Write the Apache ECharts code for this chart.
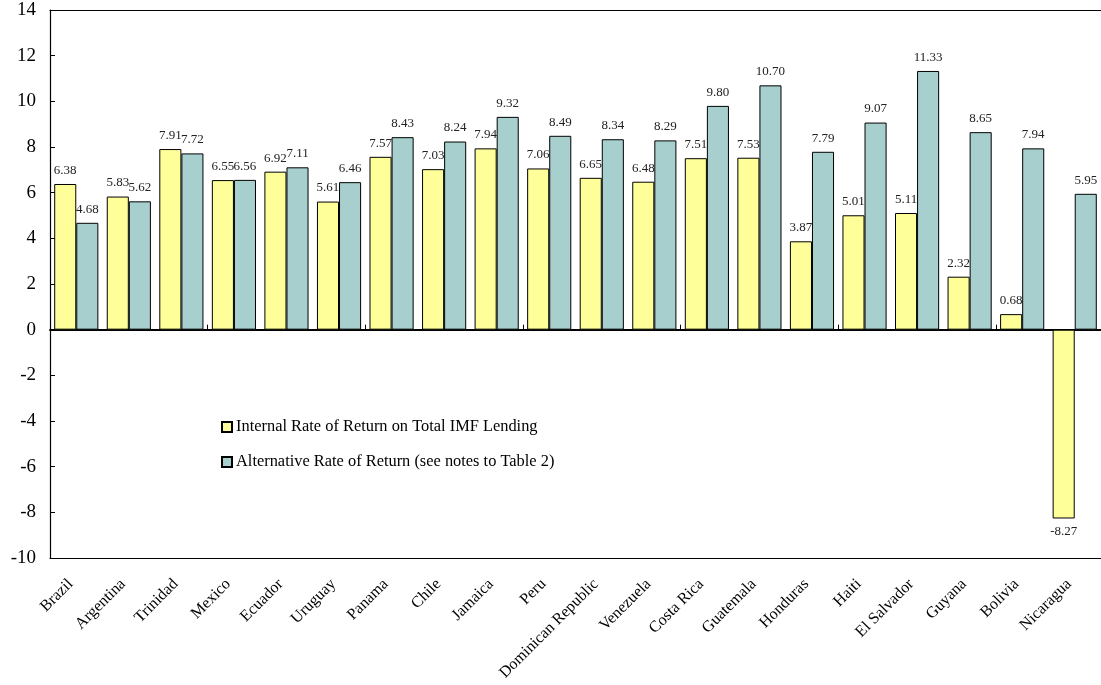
<!DOCTYPE html>
<html>
<head>
<meta charset="utf-8">
<script src="https://cdn.jsdelivr.net/npm/echarts@6/dist/echarts.min.js"></script>
<style>
  html, body { margin: 0; padding: 0; background: #fff; }
  #chart { width: 1101px; height: 685px; }
</style>
</head>
<body>
<div id="chart"></div>
<script>
const countries = ['Brazil', 'Argentina', 'Trinidad', 'Mexico', 'Ecuador', 'Uruguay', 'Panama', 'Chile',
  'Jamaica', 'Peru', 'Dominican Republic', 'Venezuela', 'Costa Rica', 'Guatemala', 'Honduras', 'Haiti',
  'El Salvador', 'Guyana', 'Bolivia', 'Nicaragua'];
const internalRate = [6.38, 5.83, 7.91, 6.55, 6.92, 5.61, 7.57, 7.03, 7.94, 7.06, 6.65, 6.48, 7.51, 7.53,
  3.87, 5.01, 5.11, 2.32, 0.68, -8.27];
const alternativeRate = [4.68, 5.62, 7.72, 6.56, 7.11, 6.46, 8.43, 8.24, 9.32, 8.49, 8.34, 8.29, 9.80, 10.70,
  7.79, 9.07, 11.33, 8.65, 7.94, 5.95];
const seriesNames = ['Internal Rate of Return on Total IMF Lending', 'Alternative Rate of Return (see notes to Table 2)'];

const serif = '"Liberation Serif", "DejaVu Serif", serif';
const chart = echarts.init(document.getElementById('chart'));

const valueLabel = {
  show: true,
  position: 'top',
  distance: 7,
  fontFamily: serif,
  fontSize: 13,
  color: '#222',
  formatter: p => p.value.toFixed(2)
};

// negative bars carry their value label underneath
const withLabelSide = values => values.map(v => ({
  value: v,
  label: { position: v < 0 ? 'bottom' : 'top' }
}));

const frameLine = { show: true, onZero: false, lineStyle: { color: '#000', width: 1.2 } };

chart.setOption({
  animation: false,
  backgroundColor: '#fff',
  grid: { left: 50, width: 1053, top: 10, bottom: 127 },
  legend: {
    orient: 'vertical',
    left: 216, top: 414,
    itemWidth: 10, itemHeight: 10, itemGap: 19,
    icon: 'rect',
    textStyle: { fontFamily: serif, fontSize: 16.4, color: '#000', padding: [0, 0, 0, -1] },
    data: seriesNames
  },
  xAxis: [
    {
      // category names along the lower frame edge
      type: 'category',
      data: countries,
      position: 'bottom',
      axisLine: frameLine,
      axisTick: { show: false },
      axisLabel: {
        rotate: 45, interval: 0, margin: 18,
        padding: [0, 8, 0, 0],
        fontFamily: serif, fontSize: 16, color: '#000'
      }
    },
    {
      // zero line with inward ticks between categories
      type: 'category',
      data: countries,
      position: 'bottom',
      axisLine: { show: true, onZero: true, lineStyle: { color: '#000', width: 1.8 } },
      axisTick: { show: true, inside: true, length: 5, lineStyle: { color: '#000' } },
      axisLabel: { show: false }
    },
    {
      // upper frame edge
      type: 'category',
      data: countries,
      position: 'top',
      axisLine: frameLine,
      axisTick: { show: false },
      axisLabel: { show: false }
    }
  ],
  yAxis: {
    type: 'value',
    min: -10, max: 14, interval: 2,
    splitLine: { show: false },
    axisLine: frameLine,
    axisTick: { show: true, inside: true, length: 5, lineStyle: { color: '#000' } },
    axisLabel: { fontFamily: serif, fontSize: 19, color: '#000', margin: 14, padding: [3, 0, 0, 0] }
  },
  series: [
    {
      name: seriesNames[0],
      type: 'bar',
      xAxisIndex: 0,
      data: withLabelSide(internalRate),
      barGap: '0%',
      barCategoryGap: '16%',
      itemStyle: { color: '#ffff99', borderColor: '#000', borderWidth: 1 },
      label: valueLabel
    },
    {
      name: seriesNames[1],
      type: 'bar',
      xAxisIndex: 0,
      data: withLabelSide(alternativeRate),
      barGap: '0%',
      barCategoryGap: '16%',
      itemStyle: { color: '#a6cfce', borderColor: '#000', borderWidth: 1 },
      label: valueLabel
    }
  ]
});
</script>
</body>
</html>
